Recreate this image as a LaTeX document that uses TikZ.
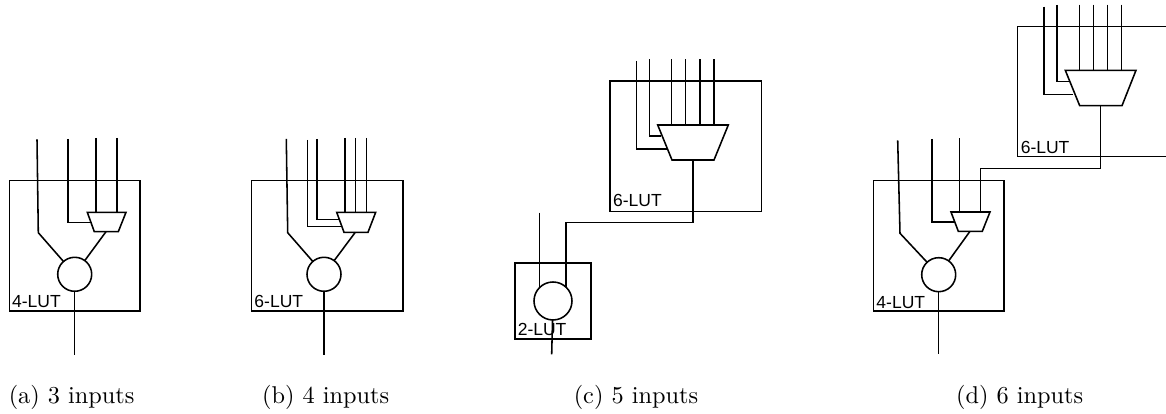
\documentclass[tikz,border=0pt]{standalone}
\usepackage{fontspec}
\newfontfamily\lutfont{Liberation Sans}
\def\u{0.4115pt}
\tikzset{
  wire/.style={line width=0.64pt,line join=miter},
  muxshape/.style={draw,line width=0.64pt,line join=miter},
  lutbox/.style={draw,line width=0.64pt,rectangle,inner sep=0pt,outer sep=0pt},
  lutcircle/.style={draw,line width=0.64pt,circle,inner sep=0pt,outer sep=0pt,minimum size=#1*\u},
  lutlabel/.style={anchor=base west,inner sep=0pt,font=\lutfont\fontsize{7.2}{8}\selectfont},
  caption/.style={anchor=base west,inner sep=0pt}
}
\begin{document}
\begin{tikzpicture}[x=\u,y=-\u]
\useasboundingbox (0,0) rectangle (1166,414);
\clip (0,0) rectangle (1166,414);

% ---------- (a)
\node[lutbox,minimum width=130.7*\u,minimum height=130.3*\u] (boxa) at (74.7,245.8) {};
\node[lutlabel] (laba) at (11.7,308) {4-LUT};
\node[lutcircle=34] (ca) at (74.7,274.3) {};
\draw[muxshape] (87.3,212.3) -- (126,212.3) -- (118.3,231.7) -- (94.3,231.7) -- cycle;
\coordinate (a1) at (37,139.3);  \coordinate (a1b) at (38.3,232.7);
\coordinate (a2) at (68,139);    \coordinate (a2b) at (68,222.3);  \coordinate (a2e) at (91.7,222.3);
\coordinate (a3) at (96,138);    \coordinate (a3e) at (96,212.3);
\coordinate (a4) at (117,138);   \coordinate (a4e) at (117,212.3);
\coordinate (amo) at (106,231.7);
\coordinate (ao) at (74.7,354.7);
\draw[wire] (a1) -- (a1b) -- (ca);
\draw[wire] (a2) -- (a2b) -- (a2e);
\draw[wire] (a3) -- (a3e);
\draw[wire] (a4) -- (a4e);
\draw[wire] (amo) -- (ca);
\draw[wire] (ca) -- (ao);

% ---------- (b)
\node[lutbox,minimum width=151.3*\u,minimum height=130.3*\u] (boxb) at (327.3,245.8) {};
\node[lutlabel] (labb) at (254,308) {6-LUT};
\node[lutcircle=34] (cb) at (324,274.3) {};
\draw[muxshape] (336.7,212.3) -- (375.7,212.3) -- (368,232.3) -- (344,232.3) -- cycle;
\coordinate (b1) at (286.3,139); \coordinate (b1b) at (287.7,232.7);
\coordinate (b2) at (307.7,140); \coordinate (b2b) at (307.7,226.3); \coordinate (b2e) at (342.3,226.3);
\coordinate (b3) at (317,139);   \coordinate (b3b) at (317,219.3);   \coordinate (b3e) at (339.3,219.3);
\coordinate (b4) at (345,138);   \coordinate (b4e) at (345,212.3);
\coordinate (b5) at (355.7,138); \coordinate (b5e) at (355.7,212.3);
\coordinate (b6) at (366.3,138); \coordinate (b6e) at (366.3,212.3);
\coordinate (bmo) at (355.3,232.3);
\coordinate (bo) at (324,354.7);
\draw[wire] (b1) -- (b1b) -- (cb);
\draw[wire] (b2) -- (b2b) -- (b2e);
\draw[wire] (b3) -- (b3b) -- (b3e);
\draw[wire] (b4) -- (b4e);
\draw[wire] (b5) -- (b5e);
\draw[wire] (b6) -- (b6e);
\draw[wire] (bmo) -- (cb);
\draw[wire] (cb) -- (bo);

% ---------- (c)
\node[lutbox,minimum width=151.7*\u,minimum height=130.7*\u] (boxc) at (685.8,146.3) {};
\node[lutlabel] (labc) at (612.7,206.7) {6-LUT};
\draw[muxshape] (657.7,125) -- (728.3,125) -- (714,160) -- (672,160) -- cycle;
\coordinate (c1) at (636.3,61);   \coordinate (c1b) at (636.3,149);   \coordinate (c1e) at (666.7,149);
\coordinate (c2) at (649.3,59.3); \coordinate (c2b) at (649.3,136);   \coordinate (c2e) at (661,136);
\coordinate (c3) at (671.7,59.3); \coordinate (c3e) at (671.7,125);
\coordinate (c4) at (685.7,59.3); \coordinate (c4e) at (685.7,125);
\coordinate (c5) at (700,59.3);   \coordinate (c5e) at (700,125);
\coordinate (c6) at (714,59.3);   \coordinate (c6e) at (714,125);
\coordinate (cmo) at (693,160);   \coordinate (cr1) at (693,222.7);   \coordinate (cr2) at (566,222.7);
\coordinate (cre) at (566,287.4);
\node[lutbox,minimum width=76*\u,minimum height=76*\u] (boxc2) at (553,301) {};
\node[lutlabel] (labc2) at (517.3,335.7) {2-LUT};
\node[lutcircle=38] (cc) at (553,301) {};
\coordinate (c7) at (539.7,212.7); \coordinate (c7e) at (539.7,287.4);
\coordinate (cco) at (551.7,354.3);
\draw[wire] (c1) -- (c1b) -- (c1e);
\draw[wire] (c2) -- (c2b) -- (c2e);
\draw[wire] (c3) -- (c3e);
\draw[wire] (c4) -- (c4e);
\draw[wire] (c5) -- (c5e);
\draw[wire] (c6) -- (c6e);
\draw[wire] (cmo) -- (cr1) -- (cr2) -- (cre);
\draw[wire] (c7) -- (c7e);
\draw[wire] (cc) -- (cco);

% ---------- (d)
\node[lutbox,minimum width=152*\u,minimum height=130.4*\u] (boxd) at (1093.7,91.5) {};
\node[lutlabel] (labd) at (1020.3,153.3) {6-LUT};
\draw[muxshape] (1065.3,70.3) -- (1136,70.3) -- (1122,105.7) -- (1079.7,105.7) -- cycle;
\coordinate (d1) at (1044,6.7);   \coordinate (d1b) at (1044,94.3);   \coordinate (d1e) at (1073.3,94.3);
\coordinate (d2) at (1057,5);     \coordinate (d2b) at (1057,81.3);   \coordinate (d2e) at (1069,81.3);
\coordinate (d3) at (1079.3,4.7); \coordinate (d3e) at (1079.3,70.3);
\coordinate (d4) at (1093.7,4.7); \coordinate (d4e) at (1093.7,70.3);
\coordinate (d5) at (1107.7,4.7); \coordinate (d5e) at (1107.7,70.3);
\coordinate (d6) at (1121.7,4.7); \coordinate (d6e) at (1121.7,70.3);
\coordinate (dmo) at (1100.7,105.7); \coordinate (dr1) at (1100.7,168.7); \coordinate (dr2) at (980.7,168.7);
\coordinate (dre) at (980.7,212);
\node[lutbox,minimum width=130.3*\u,minimum height=130.7*\u] (boxd2) at (938.8,245.7) {};
\node[lutlabel] (labd2) at (876,308.3) {4-LUT};
\node[lutcircle=34] (cd) at (938.7,274.7) {};
\draw[muxshape] (951,212) -- (990,212) -- (982.3,231.3) -- (958.3,231.3) -- cycle;
\coordinate (d7) at (897.7,140.3); \coordinate (d7b) at (900,233.3);
\coordinate (d8) at (932,139);     \coordinate (d8b) at (932,222);    \coordinate (d8e) at (954.3,222);
\coordinate (d9) at (959.7,138.3); \coordinate (d9e) at (959.7,212);
\coordinate (dmo2) at (970,231.3);
\coordinate (do) at (938.7,354.3);
\draw[wire] (d1) -- (d1b) -- (d1e);
\draw[wire] (d2) -- (d2b) -- (d2e);
\draw[wire] (d3) -- (d3e);
\draw[wire] (d4) -- (d4e);
\draw[wire] (d5) -- (d5e);
\draw[wire] (d6) -- (d6e);
\draw[wire] (dmo) -- (dr1) -- (dr2) -- (dre);
\draw[wire] (d7) -- (d7b) -- (cd);
\draw[wire] (d8) -- (d8b) -- (d8e);
\draw[wire] (d9) -- (d9e);
\draw[wire] (dmo2) -- (cd);
\draw[wire] (cd) -- (do);

% ---------- captions
\node[caption] (capa) at (8.3,404) {(a) 3 inputs};
\node[caption] (capb) at (261.7,404) {(b) 4 inputs};
\node[caption] (capc) at (573.3,404) {(c) 5 inputs};
\node[caption] (capd) at (955.7,404) {(d) 6 inputs};
\end{tikzpicture}
\end{document}
